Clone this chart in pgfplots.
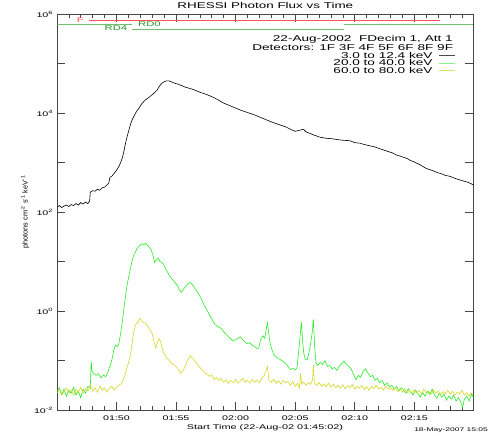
\documentclass[border=0pt]{standalone}
\usepackage{fontspec}
\setmainfont{Liberation Sans}[FakeStretch=1.6]
\newfontfamily\narrowsans{Liberation Sans}
\usepackage{pgfplots}
\pgfplotsset{compat=1.18}
\definecolor{axgray}{RGB}{70,70,70}
\definecolor{cgreen}{RGB}{40,235,40}
\definecolor{cyellow}{RGB}{215,215,40}
\definecolor{lred}{RGB}{255,85,85}
\definecolor{lgreen}{RGB}{110,190,110}
\definecolor{tgreen}{RGB}{40,150,40}
\definecolor{legg}{RGB}{130,250,130}
\definecolor{legy}{RGB}{225,225,100}
\newcommand\fs[1]{\fontsize{#1}{#1}\selectfont}
\begin{document}
\begin{tikzpicture}
\path[use as bounding box] (0,0) rectangle (491pt,436pt);
\begin{axis}[
  at={(57.3pt,26pt)}, anchor=south west,
  scale only axis, width=416pt, height=396pt,
  xmin=0.033, xmax=34.95, ymin=-2, ymax=6,
  axis line style={axgray, line width=0.8pt},
  tick style={axgray, line width=0.6pt},
  tick align=inside,
  major tick length=8pt, minor tick length=4pt,
  xtick={5,10,15,20,25,30},
  xticklabels={01:50,01:55,02:00,02:05,02:10,02:15},
  minor xtick={1,2,3,4,6,7,8,9,11,12,13,14,16,17,18,19,21,22,23,24,26,27,28,29,31,32,33,34},
  ytick={-2,-1,0,1,2,3,4,5,6},
  yticklabels={10\textsuperscript{-2},,10\textsuperscript{0},,10\textsuperscript{2},,10\textsuperscript{4},,10\textsuperscript{6}},
  ticklabel style={font=\fs{6.7}, inner sep=0pt},
  xticklabel shift=6pt, yticklabel shift=4pt,
]
% status bars
\addplot[lred, line width=0.8pt] coordinates {(2.735,5.879) (32.16,5.879)};
\addplot[lgreen, line width=0.8pt] coordinates {(0.033,5.784) (6.32,5.784)};
\addplot[lgreen, line width=0.8pt] coordinates {(6.32,5.691) (24.10,5.691)};
\addplot[lgreen, line width=0.8pt] coordinates {(24.10,5.784) (34.95,5.784)};
% 3-12.4 keV
\addplot[black, line width=0.6pt] coordinates {
(0.03,2.10) (0.2,2.13) (0.4,2.09) (0.6,2.12) (0.8,2.14) (1.0,2.11) (1.2,2.15) (1.4,2.13) (1.6,2.17) (1.8,2.14) (2.0,2.19) (2.2,2.16) (2.4,2.20) (2.6,2.17) (2.75,2.22) (2.8,2.40) (3.0,2.43) (3.2,2.42) (3.4,2.46) (3.6,2.44) (3.8,2.49) (4.0,2.50) (4.2,2.55) (4.35,2.58) (4.45,2.70) (4.6,2.72) (4.8,2.78) (5.0,2.84) (5.2,2.92) (5.35,3.00) (5.5,3.10) (5.6,3.20) (5.75,3.38) (5.9,3.53) (6.05,3.66) (6.2,3.79) (6.35,3.88) (6.5,3.95) (6.7,4.04) (6.9,4.10) (7.1,4.18) (7.4,4.26) (7.7,4.31) (8.0,4.37) (8.2,4.41) (8.4,4.46) (8.6,4.54) (8.8,4.60) (9.0,4.63) (9.2,4.65) (9.4,4.65) (9.6,4.63) (9.9,4.60) (10.2,4.58) (10.5,4.55) (10.8,4.52) (11.1,4.50) (11.5,4.47) (12.0,4.42) (12.5,4.38) (13.0,4.33) (13.5,4.27) (14.0,4.20) (14.5,4.15) (15.0,4.10) (15.5,4.05) (16.0,4.01) (16.6,3.96) (17.1,3.91) (17.6,3.86) (18.0,3.82) (18.7,3.76) (19.2,3.72) (19.7,3.66) (20.0,3.63) (20.2,3.64) (20.5,3.66) (20.7,3.67) (20.9,3.62) (21.5,3.56) (22.1,3.51) (22.6,3.49) (23.1,3.48) (23.6,3.46) (24.0,3.45) (24.6,3.44) (25.0,3.40) (25.45,3.39) (25.7,3.37) (26.2,3.34) (26.6,3.32) (27.2,3.27) (27.7,3.23) (28.2,3.19) (28.5,3.15) (28.8,3.13) (29.4,3.08) (29.6,3.05) (30.0,3.01) (30.5,2.95) (31.0,2.88) (31.5,2.84) (32.0,2.79) (32.2,2.78) (32.6,2.74) (33.0,2.72) (33.4,2.68) (33.8,2.65) (34.2,2.62) (34.5,2.60) (34.95,2.55)
};
% 20-40 keV
\addplot[cgreen, line width=0.6pt] coordinates {
(0.03,-1.62) (0.2,-1.55) (0.4,-1.68) (0.6,-1.58) (0.8,-1.72) (1.0,-1.60) (1.2,-1.66) (1.4,-1.54) (1.6,-1.70) (1.8,-1.62) (2.0,-1.75) (2.2,-1.58) (2.4,-1.66) (2.6,-1.52) (2.8,-1.56) (2.88,-1.02) (2.95,-1.22) (3.1,-1.26) (3.3,-1.30) (3.5,-1.27) (3.7,-1.35) (3.9,-1.29) (4.1,-1.33) (4.3,-1.22) (4.45,-1.12) (4.6,-1.00) (4.75,-0.82) (4.9,-0.69) (5.05,-0.72) (5.2,-0.66) (5.35,-0.45) (5.5,-0.20) (5.65,0.10) (5.8,0.38) (5.95,0.60) (6.1,0.78) (6.25,0.95) (6.4,1.10) (6.55,1.17) (6.7,1.25) (6.85,1.30) (7.0,1.33) (7.15,1.36) (7.3,1.34) (7.45,1.37) (7.6,1.33) (7.75,1.29) (7.9,1.24) (8.05,1.14) (8.2,0.98) (8.35,1.03) (8.5,1.07) (8.65,1.00) (8.8,0.98) (8.95,0.95) (9.1,0.86) (9.3,0.78) (9.5,0.69) (9.7,0.64) (9.9,0.58) (10.1,0.52) (10.3,0.42) (10.45,0.38) (10.6,0.43) (10.8,0.50) (11.0,0.55) (11.2,0.58) (11.4,0.52) (11.6,0.45) (11.8,0.38) (12.0,0.30) (12.2,0.20) (12.4,0.10) (12.6,0.02) (12.8,-0.08) (13.0,-0.16) (13.2,-0.25) (13.4,-0.30) (13.6,-0.33) (13.8,-0.35) (14.0,-0.42) (14.2,-0.47) (14.4,-0.52) (14.6,-0.57) (14.8,-0.60) (15.0,-0.58) (15.2,-0.55) (15.4,-0.52) (15.6,-0.58) (15.8,-0.63) (16.0,-0.66) (16.2,-0.64) (16.4,-0.70) (16.6,-0.72) (16.8,-0.76) (16.95,-0.74) (17.1,-0.58) (17.3,-0.50) (17.45,-0.55) (17.6,-0.32) (17.68,-0.24) (17.78,-0.45) (17.9,-0.66) (18.05,-0.78) (18.2,-0.88) (18.4,-0.93) (18.6,-0.96) (18.8,-0.99) (19.0,-1.02) (19.2,-1.06) (19.4,-1.12) (19.6,-1.18) (19.8,-1.16) (20.0,-1.19) (20.15,-1.15) (20.3,-0.80) (20.4,-0.55) (20.52,-0.22) (20.62,-0.60) (20.72,-0.85) (20.85,-0.98) (21.0,-0.99) (21.15,-0.85) (21.3,-0.65) (21.42,-0.45) (21.53,-0.17) (21.63,-0.70) (21.75,-1.05) (21.9,-1.10) (22.1,-1.04) (22.3,-1.08) (22.5,-1.00) (22.7,-1.12) (22.9,-1.10) (23.1,-1.17) (23.3,-1.14) (23.5,-1.20) (23.7,-1.12) (23.9,-1.06) (24.1,-1.01) (24.3,-1.08) (24.5,-1.12) (24.7,-1.17) (24.9,-1.28) (25.1,-1.39) (25.3,-1.30) (25.5,-1.34) (25.7,-1.22) (25.9,-1.17) (26.1,-1.25) (26.3,-1.33) (26.5,-1.30) (26.7,-1.40) (26.9,-1.36) (27.1,-1.45) (27.3,-1.40) (27.5,-1.50) (27.7,-1.45) (27.9,-1.53) (28.1,-1.50) (28.3,-1.58) (28.5,-1.52) (28.7,-1.62) (28.9,-1.55) (29.1,-1.60) (29.3,-1.66) (29.5,-1.57) (29.7,-1.64) (29.9,-1.70) (30.1,-1.60) (30.3,-1.67) (30.5,-1.74) (30.7,-1.65) (30.9,-1.72) (31.1,-1.62) (31.3,-1.69) (31.5,-1.58) (31.7,-1.70) (31.9,-1.76) (32.1,-1.66) (32.3,-1.74) (32.5,-1.68) (32.7,-1.80) (32.9,-1.72) (33.1,-1.78) (33.3,-1.70) (33.5,-1.82) (33.7,-1.75) (33.9,-1.84) (34.05,-1.95) (34.2,-1.78) (34.4,-1.72) (34.6,-1.82) (34.8,-1.68) (34.95,-1.74)
};
% 60-80 keV
\addplot[cyellow, line width=0.6pt] coordinates {
(0.03,-1.66) (0.2,-1.58) (0.4,-1.70) (0.6,-1.62) (0.8,-1.55) (1.0,-1.66) (1.2,-1.60) (1.4,-1.70) (1.6,-1.58) (1.8,-1.64) (2.0,-1.54) (2.2,-1.66) (2.4,-1.57) (2.6,-1.62) (2.8,-1.50) (3.0,-1.62) (3.2,-1.55) (3.4,-1.64) (3.6,-1.52) (3.8,-1.60) (4.0,-1.55) (4.2,-1.64) (4.4,-1.56) (4.6,-1.52) (4.8,-1.60) (5.0,-1.54) (5.2,-1.50) (5.4,-1.47) (5.6,-1.38) (5.8,-1.22) (6.0,-1.05) (6.15,-0.92) (6.3,-0.68) (6.45,-0.42) (6.6,-0.28) (6.8,-0.22) (7.0,-0.15) (7.2,-0.22) (7.4,-0.25) (7.6,-0.30) (7.8,-0.38) (8.0,-0.45) (8.15,-0.62) (8.3,-0.75) (8.45,-0.62) (8.6,-0.56) (8.75,-0.66) (8.9,-0.82) (9.05,-0.88) (9.2,-0.95) (9.4,-0.99) (9.6,-1.05) (9.8,-1.09) (10.0,-1.12) (10.2,-1.18) (10.4,-1.26) (10.6,-1.20) (10.8,-1.10) (11.0,-0.98) (11.2,-0.90) (11.4,-0.96) (11.6,-1.02) (11.8,-1.08) (12.0,-1.14) (12.2,-1.19) (12.4,-1.24) (12.6,-1.28) (12.8,-1.32) (13.0,-1.30) (13.2,-1.38) (13.4,-1.34) (13.6,-1.40) (13.8,-1.36) (14.0,-1.44) (14.2,-1.39) (14.4,-1.46) (14.6,-1.40) (14.8,-1.45) (15.0,-1.38) (15.2,-1.46) (15.4,-1.41) (15.6,-1.36) (15.8,-1.44) (16.0,-1.40) (16.2,-1.46) (16.4,-1.38) (16.6,-1.44) (16.8,-1.40) (17.0,-1.45) (17.2,-1.36) (17.4,-1.30) (17.55,-1.20) (17.67,-1.12) (17.8,-1.40) (18.0,-1.44) (18.2,-1.38) (18.4,-1.46) (18.6,-1.41) (18.8,-1.48) (19.0,-1.40) (19.2,-1.45) (19.4,-1.42) (19.6,-1.50) (19.8,-1.43) (20.0,-1.52) (20.2,-1.46) (20.35,-1.56) (20.45,-1.26) (20.55,-1.48) (20.7,-1.43) (20.9,-1.50) (21.1,-1.45) (21.3,-1.48) (21.45,-1.40) (21.53,-1.09) (21.62,-1.46) (21.8,-1.50) (22.0,-1.44) (22.2,-1.52) (22.4,-1.47) (22.6,-1.53) (22.8,-1.46) (23.0,-1.54) (23.2,-1.48) (23.4,-1.55) (23.6,-1.50) (23.8,-1.56) (24.0,-1.49) (24.2,-1.57) (24.4,-1.51) (24.6,-1.55) (24.8,-1.48) (25.0,-1.58) (25.2,-1.52) (25.4,-1.56) (25.6,-1.50) (25.8,-1.59) (26.0,-1.53) (26.2,-1.60) (26.4,-1.52) (26.6,-1.57) (26.8,-1.50) (27.0,-1.58) (27.2,-1.54) (27.4,-1.60) (27.6,-1.52) (27.8,-1.58) (28.0,-1.55) (28.2,-1.61) (28.4,-1.55) (28.6,-1.62) (28.8,-1.57) (29.0,-1.64) (29.2,-1.58) (29.4,-1.65) (29.6,-1.60) (29.8,-1.66) (30.0,-1.59) (30.2,-1.65) (30.4,-1.61) (30.6,-1.67) (30.8,-1.58) (31.0,-1.65) (31.2,-1.62) (31.4,-1.68) (31.6,-1.60) (31.8,-1.66) (32.0,-1.62) (32.2,-1.69) (32.4,-1.63) (32.6,-1.67) (32.8,-1.60) (33.0,-1.68) (33.2,-1.62) (33.4,-1.70) (33.6,-1.64) (33.8,-1.68) (34.0,-1.60) (34.2,-1.70) (34.4,-1.65) (34.6,-1.72) (34.8,-1.66) (34.95,-1.70)
};
\end{axis}
\begin{scope}[x=1pt,y=-1pt,shift={(0pt,436pt)}]
\node[anchor=base, inner sep=0pt, font=\fs{8.4}] at (265.3,8.7) {RHESSI Photon Flux vs Time};
\node[anchor=base west, inner sep=0pt, font=\fs{7}, text=lred] at (76.7,22.7) {F};
\node[anchor=base west, inner sep=0pt, font=\fs{7}, text=tgreen] at (104.5,30.8) {RD4};
\node[anchor=base west, inner sep=0pt, font=\fs{7}, text=tgreen] at (138,27) {RD0};
\node[anchor=base east, inner sep=0pt, font=\fs{8.5}] at (453,41.7) {22-Aug-2002\ \ FDecim 1, Att 1};
\node[anchor=base east, inner sep=0pt, font=\fs{8.5}] at (453.3,50.7) {Detectors: 1F 3F 4F 5F 6F 8F 9F};
\node[anchor=base east, inner sep=0pt, font=\fs{8.5}] at (432.7,58.3) {3.0 to 12.4 keV};
\node[anchor=base east, inner sep=0pt, font=\fs{8.5}] at (432.7,66) {20.0 to 40.0 keV};
\node[anchor=base east, inner sep=0pt, font=\fs{8.5}] at (432.7,73.3) {60.0 to 80.0 keV};
\draw[black!70, line width=0.4pt] (439,55) -- (455,55);
\draw[legg, line width=1.1pt] (439,63.3) -- (455,63.3);
\draw[legy, line width=0.6pt] (439,70.7) -- (455,70.7);
\node[rotate=90, inner sep=0pt, font=\narrowsans\fs{7.3}] at (25,212) {photons cm\textsuperscript{-2} s\textsuperscript{-1} keV\textsuperscript{-1}};
\node[anchor=base, inner sep=0pt, font=\fs{6.8}] at (265,430) {Start Time (22-Aug-02 01:45:02)};
\node[anchor=base east, inner sep=0pt, font=\fs{5.3}] at (488,432) {18-May-2007 15:05};
\end{scope}
\end{tikzpicture}
\end{document}
